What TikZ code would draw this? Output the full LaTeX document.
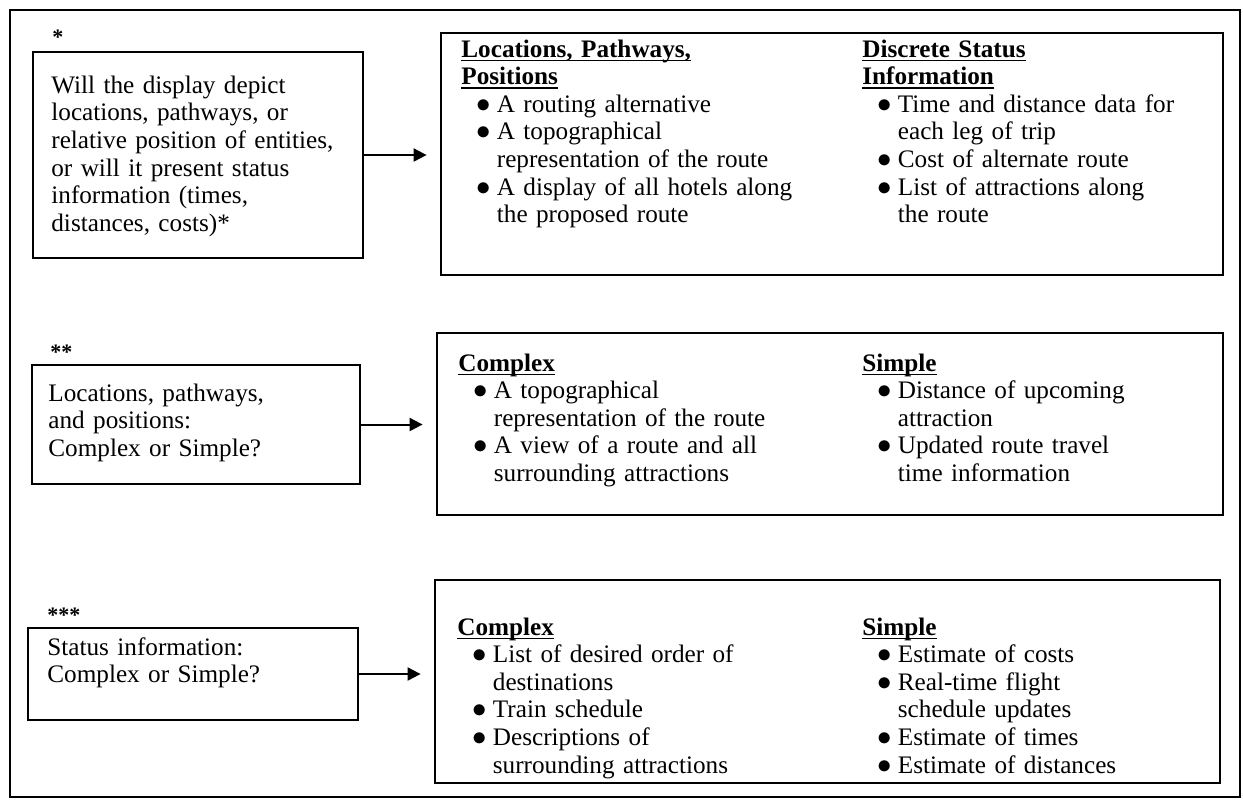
\documentclass[tikz,border=0pt]{standalone}
\usepackage{fontspec}
\setmainfont{Liberation Serif}
\usetikzlibrary{arrows.meta}

% bold heading with an underline at a fixed depth
\newcommand\hdline[1]{\leavevmode{\bfseries\setbox0\hbox{#1}\rlap{\smash{\rule[-2.1pt]{\wd0}{0.7pt}}}\box0}}
% bulleted entry with a hanging indent for its continuation lines
\newcommand\bitem[1]{\par\hangindent=17.75pt\hangafter=1\noindent\hspace*{7.4pt}\makebox[10.35pt][l]{\smash{\fontsize{14.5}{14.5}\selectfont$\bullet$}}#1}

\tikzset{
  x=0.5pt, y=-0.5pt,
  frame/.style={draw, line width=1pt},
  qbox/.style={draw, line width=1.4pt, inner sep=0pt},
  abox/.style={draw, line width=1.4pt, inner sep=0pt},
  qtext/.style={anchor=base west, inner sep=0pt, text width=175pt, align=left,
    font=\fontsize{12.6}{13.85}\selectfont},
  atext/.style={anchor=base west, inner sep=0pt, text width=190pt, align=left,
    font=\fontsize{12.6}{13.8}\selectfont},
  starmark/.style={anchor=base west, inner sep=0pt, font=\fontsize{11}{11}\selectfont\bfseries},
  arr/.style={line width=1pt, -{Triangle[length=6.5pt,width=6.5pt]}, shorten >=6.5pt},
}

\begin{document}
\begin{tikzpicture}
\useasboundingbox (0,0) rectangle (1243,800);

% outer frame
\draw[frame] (10,10) rectangle (1240,797);

% question boxes
\node[qbox, minimum width=165pt, minimum height=103pt] (q1) at (198,155) {};
\node[qbox, minimum width=164pt, minimum height=59.5pt] (q2) at (196,424.5) {};
\node[qbox, minimum width=165pt, minimum height=46pt] (q3) at (193,674) {};

% answer boxes
\node[abox, minimum width=391pt, minimum height=121pt] (a1) at (832,154) {};
\node[abox, minimum width=393pt, minimum height=91pt] (a2) at (830,424) {};
\node[abox, minimum width=392.5pt, minimum height=101.5pt] (a3) at (827.5,681.5) {};

% markers above the question boxes
\node[starmark] (s1) at (52,44) {*};
\node[starmark] (s2) at (50,359) {**};
\node[starmark] (s3) at (47,622) {***};

% question texts
\node[qtext] (t1) at (51,93) {Will the display depict\\locations, pathways, or\\relative position of entities,\\or will it present status\\information (times,\\distances, costs)*};
\node[qtext] (t2) at (48,401) {Locations, pathways,\\and positions:\\Complex or Simple?};
\node[qtext] (t3) at (47,655) {Status information:\\Complex or Simple?};

% answer texts, first row
\node[atext] (r1l) at (461,57) {\noindent\hdline{Locations, Pathways,}\newline\hdline{Positions}
  \bitem{A routing alternative}
  \bitem{A topographical\newline representation of the route}
  \bitem{A display of all hotels along\newline the proposed route}\par};
\node[atext] (r1r) at (862,57) {\noindent\hdline{Discrete Status}\newline\hdline{Information}
  \bitem{Time and distance data for\newline each leg of trip}
  \bitem{Cost of alternate route}
  \bitem{List of attractions along\newline the route}\par};

% answer texts, second row
\node[atext] (r2l) at (458,371) {\noindent\hdline{Complex}
  \bitem{A topographical\newline representation of the route}
  \bitem{A view of a route and all\newline surrounding attractions}\par};
\node[atext] (r2r) at (862,371) {\noindent\hdline{Simple}
  \bitem{Distance of upcoming\newline attraction}
  \bitem{Updated route travel\newline time information}\par};

% answer texts, third row
\node[atext] (r3l) at (457,635) {\noindent\hdline{Complex}
  \bitem{List of desired order of\newline destinations}
  \bitem{Train schedule}
  \bitem{Descriptions of\newline surrounding attractions}\par};
\node[atext] (r3r) at (862,635) {\noindent\hdline{Simple}
  \bitem{Estimate of costs}
  \bitem{Real-time flight\newline schedule updates}
  \bitem{Estimate of times}
  \bitem{Estimate of distances}\par};

% connectors
\draw[arr] (q1.east) -- (a1.west |- q1.east);
\draw[arr] (q2.east) -- (a2.west |- q2.east);
\draw[arr] (q3.east) -- (a3.west |- q3.east);
\end{tikzpicture}
\end{document}
